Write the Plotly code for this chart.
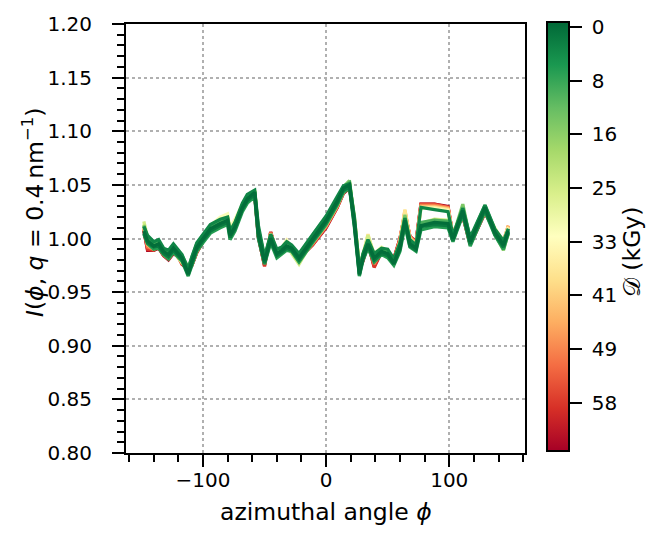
import plotly.graph_objects as go
from plotly.colors import sample_colorscale

# azimuthal angle grid (deg)
phi = [-148, -145, -140, -136, -132, -128, -124, -120, -117, -112, -109, -105, -100, -94, -86, -80,
       -78, -74, -68, -64, -58, -55, -50, -45, -40, -36, -32, -28, -22, -11, 0, 9, 14, 19, 23, 27,
       30, 34, 39, 45, 50, 55, 60, 64, 68, 73, 77, 88, 99, 103, 111, 117, 129, 137, 144, 148]

# doses (kGy) of the curves
doses = [0, 1.6, 3.3, 6.6, 9.9, 14.8, 19.8, 24.7, 31.3, 37.9, 44.5, 51.1, 57.7, 64.3]

I_d00 = [1.007, 0.998, 0.993, 0.995, 0.988, 0.985, 0.991, 0.986, 0.982, 0.967, 0.979, 0.992, 1.000, 1.009, 1.014, 1.017, 1.003, 1.011, 1.029, 1.037, 1.043, 1.005, 0.979, 1.000, 0.986, 0.989, 0.993, 0.991, 0.982, 1.000, 1.017, 1.035, 1.047, 1.050, 1.014, 0.967, 0.983, 0.995, 0.982, 0.988, 0.986, 0.977, 0.992, 1.017, 0.995, 0.991, 1.012, 1.015, 1.014, 1.000, 1.026, 0.997, 1.029, 1.006, 0.994, 1.007]
I_d01 = [1.005, 0.996, 0.992, 0.993, 0.986, 0.983, 0.989, 0.984, 0.980, 0.966, 0.977, 0.990, 0.998, 1.007, 1.012, 1.015, 1.001, 1.009, 1.027, 1.035, 1.041, 1.002, 0.977, 0.998, 0.984, 0.987, 0.991, 0.989, 0.980, 0.998, 1.015, 1.033, 1.045, 1.048, 1.012, 0.966, 0.981, 0.993, 0.980, 0.986, 0.984, 0.976, 0.990, 1.015, 0.993, 0.989, 1.011, 1.013, 1.012, 0.998, 1.024, 0.995, 1.027, 1.004, 0.992, 1.006]
I_d02 = [1.011, 1.003, 0.997, 0.999, 0.991, 0.989, 0.995, 0.989, 0.985, 0.971, 0.983, 0.996, 1.004, 1.013, 1.018, 1.020, 1.007, 1.015, 1.033, 1.041, 1.045, 1.012, 0.983, 1.004, 0.990, 0.992, 0.997, 0.994, 0.986, 1.004, 1.021, 1.039, 1.049, 1.051, 1.020, 0.971, 0.986, 0.999, 0.986, 0.991, 0.990, 0.981, 0.996, 1.019, 0.999, 0.994, 1.029, 1.027, 1.025, 1.003, 1.028, 1.001, 1.031, 1.009, 0.998, 1.009]
I_d03 = [1.004, 0.995, 0.990, 0.991, 0.985, 0.981, 0.987, 0.983, 0.979, 0.965, 0.975, 0.988, 0.996, 1.005, 1.010, 1.013, 0.999, 1.007, 1.025, 1.033, 1.039, 1.000, 0.976, 0.996, 0.982, 0.986, 0.989, 0.988, 0.978, 0.996, 1.013, 1.031, 1.043, 1.047, 1.010, 0.965, 0.980, 0.991, 0.978, 0.985, 0.982, 0.975, 0.988, 1.012, 0.992, 0.988, 1.008, 1.011, 1.010, 0.997, 1.022, 0.993, 1.025, 1.003, 0.990, 1.005]
I_d04 = [1.012, 1.001, 0.996, 0.997, 0.990, 0.987, 0.994, 0.988, 0.984, 0.973, 0.982, 0.995, 1.003, 1.011, 1.016, 1.019, 1.006, 1.014, 1.031, 1.038, 1.044, 1.009, 0.982, 1.003, 0.988, 0.991, 0.996, 0.992, 0.985, 1.003, 1.020, 1.037, 1.048, 1.052, 1.016, 0.970, 0.985, 0.998, 0.985, 0.990, 0.989, 0.979, 0.996, 1.019, 0.997, 0.993, 1.015, 1.017, 1.016, 1.002, 1.029, 0.999, 1.031, 1.008, 0.994, 1.009]
I_d05 = [1.011, 1.001, 0.995, 0.997, 0.989, 0.987, 0.992, 0.987, 0.983, 0.972, 0.981, 0.993, 1.002, 1.010, 1.015, 1.017, 1.004, 1.013, 1.030, 1.037, 1.044, 1.008, 0.982, 1.001, 0.988, 0.990, 0.994, 0.991, 0.984, 1.002, 1.019, 1.036, 1.048, 1.054, 1.016, 0.971, 0.985, 0.997, 0.985, 0.990, 0.988, 0.979, 0.995, 1.022, 0.998, 0.993, 1.014, 1.016, 1.016, 1.002, 1.032, 0.999, 1.030, 1.004, 0.989, 1.005]
I_d06 = [1.013, 1.000, 0.994, 0.995, 0.988, 0.984, 0.991, 0.984, 0.980, 0.969, 0.978, 0.991, 1.000, 1.010, 1.016, 1.019, 1.006, 1.014, 1.030, 1.038, 1.044, 1.006, 0.980, 1.002, 0.986, 0.988, 0.995, 0.989, 0.980, 0.999, 1.016, 1.034, 1.046, 1.052, 1.017, 0.973, 0.984, 0.998, 0.984, 0.990, 0.987, 0.976, 0.994, 1.019, 0.997, 0.991, 1.013, 1.017, 1.016, 1.000, 1.027, 0.997, 1.029, 1.008, 0.993, 1.004]
I_d07 = [1.016, 1.001, 0.993, 0.994, 0.987, 0.983, 0.990, 0.982, 0.978, 0.970, 0.977, 0.990, 1.000, 1.011, 1.017, 1.020, 1.007, 1.015, 1.031, 1.039, 1.045, 1.007, 0.981, 1.003, 0.987, 0.989, 0.996, 0.986, 0.976, 0.998, 1.015, 1.033, 1.045, 1.052, 1.018, 0.974, 0.985, 1.003, 0.985, 0.991, 0.988, 0.977, 0.995, 1.020, 0.998, 0.992, 1.014, 1.018, 1.017, 1.001, 1.025, 0.996, 1.028, 1.009, 0.996, 1.006]
I_d08 = [1.014, 0.999, 0.992, 0.993, 0.986, 0.983, 0.989, 0.982, 0.978, 0.971, 0.976, 0.989, 0.999, 1.012, 1.020, 1.023, 1.010, 1.018, 1.032, 1.039, 1.045, 1.006, 0.980, 1.004, 0.988, 0.990, 0.999, 0.988, 0.978, 0.997, 1.014, 1.032, 1.044, 1.051, 1.019, 0.974, 0.986, 1.002, 0.986, 0.992, 0.988, 0.978, 0.996, 1.022, 0.999, 0.993, 1.028, 1.028, 1.026, 1.002, 1.024, 0.997, 1.027, 1.010, 0.997, 1.010]
I_d09 = [1.012, 0.997, 0.991, 0.993, 0.986, 0.982, 0.988, 0.982, 0.978, 0.971, 0.976, 0.989, 0.999, 1.011, 1.018, 1.021, 1.008, 1.016, 1.030, 1.038, 1.044, 1.004, 0.978, 1.004, 0.988, 0.991, 0.998, 0.989, 0.979, 0.996, 1.013, 1.031, 1.044, 1.050, 1.019, 0.973, 0.985, 1.004, 0.983, 0.991, 0.987, 0.978, 0.997, 1.027, 1.000, 0.994, 1.029, 1.029, 1.027, 1.003, 1.023, 0.997, 1.026, 1.009, 0.998, 1.011]
I_d10 = [1.010, 0.994, 0.990, 0.993, 0.985, 0.982, 0.988, 0.982, 0.977, 0.972, 0.976, 0.988, 0.998, 1.010, 1.017, 1.020, 1.007, 1.015, 1.029, 1.037, 1.043, 1.003, 0.977, 1.005, 0.987, 0.990, 0.997, 0.990, 0.980, 0.996, 1.012, 1.030, 1.043, 1.049, 1.018, 0.973, 0.983, 0.999, 0.979, 0.990, 0.986, 0.979, 0.998, 1.026, 1.001, 0.995, 1.030, 1.030, 1.028, 1.003, 1.022, 0.996, 1.025, 1.008, 0.998, 1.012]
I_d11 = [1.009, 0.992, 0.990, 0.992, 0.985, 0.981, 0.987, 0.983, 0.977, 0.972, 0.975, 0.988, 0.998, 1.009, 1.016, 1.019, 1.006, 1.014, 1.028, 1.036, 1.042, 1.002, 0.976, 1.005, 0.986, 0.990, 0.996, 0.990, 0.981, 0.995, 1.011, 1.030, 1.043, 1.048, 1.017, 0.972, 0.981, 0.997, 0.976, 0.989, 0.985, 0.980, 0.999, 1.025, 1.002, 0.996, 1.031, 1.031, 1.029, 1.002, 1.022, 0.995, 1.025, 1.008, 0.997, 1.012]
I_d12 = [1.008, 0.990, 0.989, 0.992, 0.984, 0.981, 0.987, 0.983, 0.976, 0.972, 0.975, 0.987, 0.997, 1.009, 1.016, 1.019, 1.006, 1.014, 1.028, 1.036, 1.042, 1.002, 0.974, 1.006, 0.986, 0.989, 0.996, 0.991, 0.981, 0.994, 1.011, 1.029, 1.042, 1.048, 1.016, 0.972, 0.980, 0.996, 0.973, 0.988, 0.985, 0.981, 1.000, 1.024, 1.002, 0.996, 1.032, 1.032, 1.029, 1.002, 1.021, 0.995, 1.024, 1.007, 0.997, 1.011]
I_d13 = [1.007, 0.989, 0.989, 0.991, 0.984, 0.980, 0.986, 0.983, 0.976, 0.971, 0.975, 0.987, 0.997, 1.008, 1.015, 1.018, 1.005, 1.013, 1.027, 1.035, 1.041, 1.001, 0.975, 1.006, 0.985, 0.989, 0.995, 0.991, 0.982, 0.994, 1.010, 1.029, 1.042, 1.047, 1.016, 0.971, 0.979, 0.995, 0.974, 0.987, 0.984, 0.981, 1.000, 1.023, 1.002, 0.997, 1.032, 1.032, 1.030, 1.002, 1.021, 0.994, 1.024, 1.007, 0.996, 1.010]

curves = [I_d00, I_d01, I_d02, I_d03, I_d04, I_d05, I_d06, I_d07, I_d08, I_d09, I_d10, I_d11, I_d12, I_d13]

cbar_tickvals = [0, 8.24, 16.48, 24.72, 32.96, 41.2, 49.44, 57.68]
cbar_ticktext = ["0", "8", "16", "25", "33", "41", "49", "58"]
dose_lo, dose_hi = -0.82, 65.1

cmin, cmax = -dose_hi, -dose_lo

fig = go.Figure()
# draw highest dose first so low dose (green) ends on top
for d, y in reversed(list(zip(doses, curves))):
    t = (-d - cmin) / (cmax - cmin)
    col = sample_colorscale("RdYlGn", [t])[0]
    fig.add_trace(go.Scatter(x=phi, y=y, mode="lines", line=dict(color=col, width=3.3),
                             showlegend=False, hoverinfo="skip"))

fig.add_trace(go.Scatter(
    x=[None, None], y=[None, None], mode="markers", showlegend=False,
    marker=dict(color=[cmin, cmax], colorscale="RdYlGn", cmin=cmin, cmax=cmax, showscale=True,
                colorbar=dict(x=1.0544, xanchor="left", xpad=0, y=0.505, yanchor="middle",
                              len=1.0, lenmode="fraction", thickness=22, ypad=0,
                              outlinewidth=2, outlinecolor="black",
                              tickvals=[-v for v in cbar_tickvals],
                              ticktext=["\u00a0" + s for s in cbar_ticktext],
                              ticks="outside", ticklen=12, tickwidth=2.2, tickcolor="black",
                              tickfont=dict(family="DejaVu Sans", size=20, color="black")))))

axis_common = dict(showline=True, linewidth=2, linecolor="black", mirror=True,
                   ticks="outside", ticklen=12, tickwidth=2.2, tickcolor="black",
                   tickfont=dict(family="DejaVu Sans", size=20, color="black"),
                   showgrid=True, gridcolor="#b0b0b0", gridwidth=1.5, griddash="dot",
                   zeroline=False)

fig.update_xaxes(range=[-162.5, 161.5], tickvals=[-100, 0, 100], ticktext=["−100", "0", "100"],
                 minor=dict(dtick=20, tick0=0, ticks="outside", ticklen=7, tickwidth=1.8,
                            tickcolor="black", showgrid=False),
                 ticklabelstandoff=-4, **axis_common)
fig.update_yaxes(range=[0.8, 1.2], dtick=0.05, tickformat=".2f",
                 minor=dict(dtick=0.01, tick0=0.8, ticks="outside", ticklen=7, tickwidth=1.8,
                            tickcolor="black", showgrid=False),
                 ticklabelstandoff=16, **axis_common)

fig.update_layout(
    width=651, height=534,
    margin=dict(l=126, r=126, t=17, b=81),
    paper_bgcolor="white", plot_bgcolor="white",
    font=dict(family="DejaVu Sans", color="black"),
    annotations=[
        dict(text="azimuthal angle <i>ϕ</i>", x=0.5, y=-0.1376, xref="paper", yref="paper",
             xanchor="center", yanchor="middle", showarrow=False,
             font=dict(family="DejaVu Sans", size=23.5, color="black")),
        dict(text="<i>I</i>(<i>ϕ</i>, <i>q</i> = 0.4\u2009nm<sup>−1</sup>)", x=-0.23, y=0.56,
             xref="paper", yref="paper", xanchor="center", yanchor="middle", textangle=-90,
             showarrow=False, font=dict(family="DejaVu Sans", size=23.5, color="black")),
        dict(text="𝒟 (kGy)", x=1.27, y=0.47, xref="paper", yref="paper",
             xanchor="center", yanchor="middle", textangle=-90, showarrow=False,
             font=dict(family="DejaVu Sans", size=23.5, color="black")),
    ],
)

fig.write_html("out.html")
